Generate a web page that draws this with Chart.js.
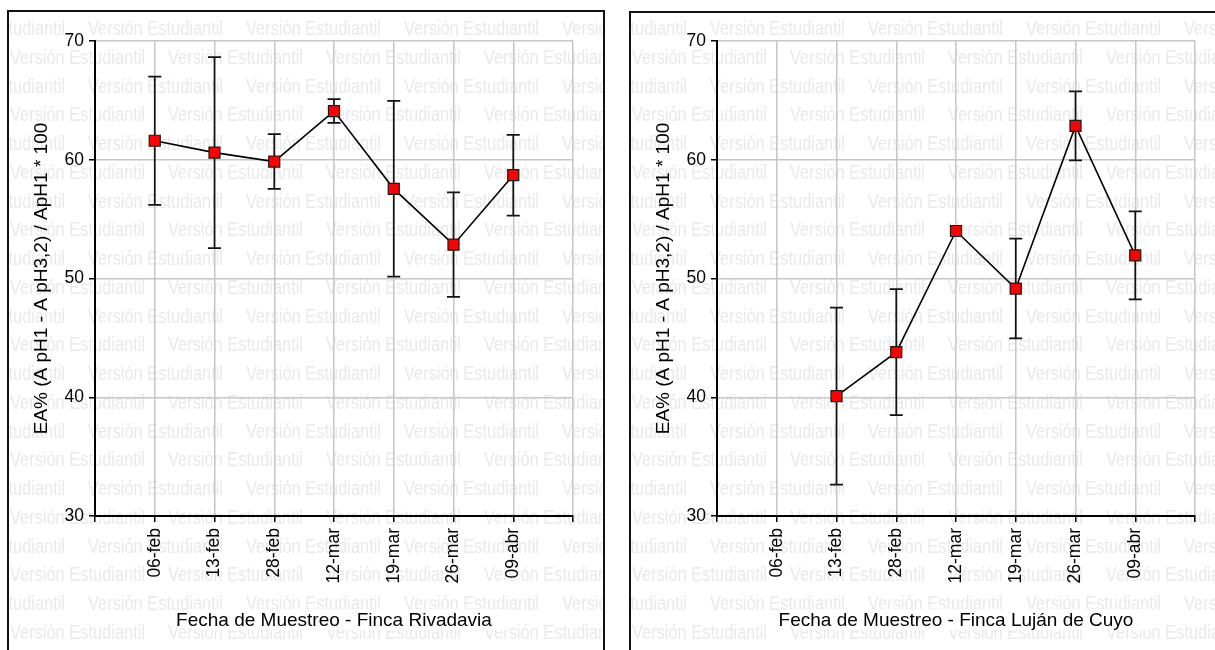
<!DOCTYPE html>
<html>
<head>
<meta charset="utf-8">
<script src="https://cdn.jsdelivr.net/npm/chart.js@4/dist/chart.umd.min.js"></script>
<style>
  body { margin: 0; background: #fff; width: 1215px; height: 650px; overflow: hidden; position: relative; }
  canvas { position: absolute; }
  .marco { position: absolute; border: 2px solid #111; box-sizing: border-box; pointer-events: none; }
</style>
</head>
<body>
<canvas id="rivadavia" width="596" height="639" style="left:8px;top:11px"></canvas>
<canvas id="lujan" width="596" height="638" style="left:630px;top:12px"></canvas>
<div class="marco" style="left:7px;top:10px;width:598px;height:700px"></div>
<div class="marco" style="left:629px;top:11px;width:598px;height:700px"></div>

<script>
// Datos
const fechas = ["06-feb", "13-feb", "28-feb", "12-mar", "19-mar", "26-mar", "09-abr"];

const mediaRivadavia = [61.6, 60.6, 59.85, 64.1, 57.55, 52.85, 58.7];
const errorRivadavia = [5.4, 8.05, 2.3, 1.0, 7.4, 4.4, 3.4];

const mediaLujan = [null, 40.1, 43.8, 54.0, 49.15, 62.85, 51.95];
const errorLujan = [null, 7.45, 5.3, 0, 4.2, 2.9, 3.7];

const yTicks = [30, 40, 50, 60, 70];
const tituloY = "EA% (A pH1 - A pH3,2) / ApH1 * 100";

const FAMILIA = '"Liberation Sans", Arial, sans-serif';
const MARCA_AGUA = "Versión Estudiantil";

// Marca de agua de fondo + recuadro blanco bajo el título del eje X
const marcaAgua = {
  id: "marcaAgua",
  beforeDraw(chart, args, opts) {
    const { ctx, width, height } = chart;
    ctx.save();
    ctx.font = "20px " + FAMILIA;
    const sx = 135 / ctx.measureText(MARCA_AGUA).width;
    ctx.fillStyle = "#e9e9e9";
    for (let r = 0; r < 25; r++) {
      const yb = 35 - opts.top + r * 28.75;
      let x = (r % 2 ? 2 : 80) - 158;
      for (; x < width; x += 158) {
        ctx.save();
        ctx.translate(x, yb);
        ctx.scale(sx, 1);
        ctx.fillText(MARCA_AGUA, 0, 0);
        ctx.restore();
      }
    }
    // recuadro del título X
    const area = chart.chartArea;
    ctx.font = "19px " + FAMILIA;
    const tw = ctx.measureText(chart.options.scales.x.title.text).width;
    const cx = (area.left + area.right) / 2;
    const cy = height - 29;
    ctx.fillStyle = "#fff";
    ctx.fillRect(cx - tw / 2 + 15, cy - 12, tw, 21);
    ctx.restore();
  }
};

// Barras de error dibujadas con las escalas del gráfico
const barrasError = {
  id: "barrasError",
  beforeDatasetsDraw(chart) {
    const { ctx, scales: { x, y } } = chart;
    ctx.save();
    ctx.strokeStyle = "#111";
    ctx.lineWidth = 1.7;
    chart.data.datasets.forEach((ds) => {
      ds.data.forEach((p) => {
        if (!p.e) return;
        const px = x.getPixelForValue(p.x);
        const top = y.getPixelForValue(p.y + p.e);
        const bot = y.getPixelForValue(p.y - p.e);
        ctx.beginPath();
        ctx.moveTo(px, top); ctx.lineTo(px, bot);
        ctx.moveTo(px - 6.5, top); ctx.lineTo(px + 6.5, top);
        ctx.moveTo(px - 6.5, bot); ctx.lineTo(px + 6.5, bot);
        ctx.stroke();
      });
    });
    ctx.restore();
  }
};

function crearPanel(id, medias, errores, tituloX, top) {
  const puntos = medias
    .map((v, i) => ({ x: i + 1, y: v, e: errores[i] }))
    .filter((p) => p.y !== null);

  const grid = { color: "#c6c6c6", lineWidth: 1.5, tickColor: "#000", tickLength: 6, tickWidth: 1.5 };
  const alto = document.getElementById(id).height;

  new Chart(document.getElementById(id), {
    type: "line",
    data: {
      datasets: [{
        data: puntos,
        borderColor: "#000",
        borderWidth: 1.6,
        tension: 0,
        pointStyle: "rect",
        pointRadius: 7.8,
        pointBackgroundColor: "#ff0000",
        pointBorderColor: "#1a1a1a",
        pointBorderWidth: 1.2,
      }],
    },
    options: {
      responsive: false,
      animation: false,
      layout: { padding: { top: alto - 475 - 134, right: 31, left: 0, bottom: 0 } },
      plugins: {
        legend: { display: false },
        tooltip: { enabled: false },
        marcaAgua: { top: top },
      },
      scales: {
        x: {
          type: "linear",
          min: 0,
          max: 8,
          afterBuildTicks: (s) => { s.ticks = [0, 1, 2, 3, 4, 5, 6, 7, 8].map((v) => ({ value: v })); },
          ticks: {
            autoSkip: false,
            maxRotation: 90,
            minRotation: 90,
            padding: 6,
            color: "#000",
            font: { size: 17.5, family: FAMILIA },
            callback: (v) => fechas[v - 1] || "",
          },
          grid: grid,
          border: { color: "#000", width: 2 },
          title: { display: true, text: tituloX, color: "#000", font: { size: 19, family: FAMILIA }, padding: { top: 0, bottom: 18 } },
          afterFit: (s) => { s.height = 134; },
        },
        y: {
          min: 30,
          max: 70,
          afterBuildTicks: (s) => { s.ticks = yTicks.map((v) => ({ value: v })); },
          ticks: { color: "#000", padding: 5, font: { size: 17.5, family: FAMILIA } },
          grid: grid,
          border: { color: "#000", width: 2 },
          title: { display: true, text: tituloY, color: "#000", font: { size: 19, family: FAMILIA }, padding: { top: 22, bottom: 0 } },
          afterFit: (s) => { s.width = 87; },
        },
      },
    },
    plugins: [marcaAgua, barrasError],
  });
}

crearPanel("rivadavia", mediaRivadavia, errorRivadavia, "Fecha de Muestreo - Finca Rivadavia", 11);
crearPanel("lujan", mediaLujan, errorLujan, "Fecha de Muestreo - Finca Luján de Cuyo", 12);
</script>
</body>
</html>
